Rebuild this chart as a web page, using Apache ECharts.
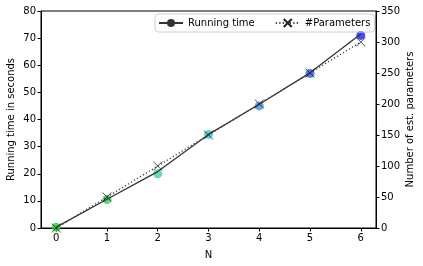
<!DOCTYPE html>
<html>
<head>
<meta charset="utf-8">
<script src="https://cdn.jsdelivr.net/npm/echarts@6/dist/echarts.min.js"></script>
<style>html,body{margin:0;padding:0;background:#fff}#c{width:423px;height:266px}</style>
</head>
<body>
<div id="c"></div>
<script>
var categories = [0, 1, 2, 3, 4, 5, 6];
var runningTimeLine = [0.3, 10.6, 20.8, 34.5, 45.6, 57.2, 71.5];
var runningTimePoints = [0.3, 10.5, 20.0, 34.5, 45.0, 57.0, 71.0];
var parameters = [0, 50, 100, 150, 200, 250, 300];
var pointColors = ['#2fcf3a', '#3fd060', '#4fd89a', '#3fcccc', '#4898e6', '#2f62ee', '#2a2aff'];
var leftTicks = [0, 10, 20, 30, 40, 50, 60, 70, 80];
var rightTicks = [0, 50, 100, 150, 200, 250, 300, 350];

var font = 'DejaVu Sans';
var chart = echarts.init(document.getElementById('c'), null, {renderer: 'canvas'});
var xMark = 'path://M0,0L10,10M10,0L0,10';
chart.setOption({
  animation: false,
  textStyle: {fontFamily: font},
  grid: {left: 41, right: 47, top: 11, bottom: 38, show: true, borderColor: '#000', borderWidth: 1, backgroundColor: 'transparent', outerBoundsMode: 'none', containLabel: false},
  legend: {
    left: 155, top: 14,
    itemWidth: 24, itemHeight: 10, itemGap: 20,
    padding: [4, 4, 4, 3],
    borderColor: '#d0d0d0', borderWidth: 1, borderRadius: 3,
    textStyle: {fontFamily: font, fontSize: 10, color: '#000'},
    data: ['Running time', '#Parameters']
  },
  xAxis: {
    type: 'value', min: -0.3, max: 6.3,
    name: 'N', nameLocation: 'middle', nameGap: 22, nameMoveOverlap: false,
    nameTextStyle: {fontFamily: font, fontSize: 10, color: '#000'},
    axisLine: {onZero: false, lineStyle: {color: '#000', width: 1}},
    axisTick: {show: true, length: 3.5, lineStyle: {color: '#000'}, customValues: categories},
    axisLabel: {fontFamily: font, fontSize: 10, color: '#000', margin: 5, customValues: categories},
    splitLine: {show: false}
  },
  yAxis: [{
    type: 'value', min: 0, max: 80, interval: 10,
    name: 'Running time in seconds', nameLocation: 'middle', nameGap: 25, nameMoveOverlap: false,
    nameTextStyle: {fontFamily: font, fontSize: 10, color: '#000'},
    axisLine: {show: true, onZero: false, lineStyle: {color: '#000', width: 1}},
    axisTick: {show: true, length: 3.5, lineStyle: {color: '#000'}, customValues: leftTicks},
    axisLabel: {fontFamily: font, fontSize: 10, color: '#000', margin: 5, customValues: leftTicks},
    splitLine: {show: false}
  }, {
    type: 'value', min: 0, max: 350, interval: 50, position: 'right',
    name: 'Number of est. parameters', nameLocation: 'middle', nameGap: 29, nameMoveOverlap: false,
    nameRotate: 90,
    nameTextStyle: {fontFamily: font, fontSize: 10, color: '#000'},
    axisLine: {show: true, onZero: false, lineStyle: {color: '#000', width: 1}},
    axisTick: {show: true, length: 3.5, lineStyle: {color: '#000'}, customValues: rightTicks},
    axisLabel: {fontFamily: font, fontSize: 10, color: '#000', margin: 5, customValues: rightTicks},
    splitLine: {show: false}
  }],
  series: [{
    name: 'Running time', type: 'line', yAxisIndex: 0,
    data: categories.map(function (c, i) { return [c, runningTimeLine[i]]; }),
    symbol: 'circle', symbolSize: 8, showSymbol: false,
    itemStyle: {color: '#333'},
    lineStyle: {color: '#333', width: 1.3, type: 'solid'},
    z: 3
  }, {
    name: 'pts', type: 'scatter', yAxisIndex: 0,
    data: categories.map(function (c, i) { return {value: [c, runningTimePoints[i]], itemStyle: {color: pointColors[i]}}; }),
    symbolSize: 9, itemStyle: {opacity: 0.85},
    z: 2
  }, {
    name: '#Parameters', type: 'line', yAxisIndex: 1,
    data: categories.map(function (c, i) { return [c, parameters[i]]; }),
    symbol: xMark, symbolSize: 9,
    itemStyle: {color: 'rgba(0,0,0,0)', borderColor: '#222', borderWidth: 0.8},
    lineStyle: {color: '#444', width: 1.3, type: [1.3, 2.2]},
    z: 4
  }]
});
</script>
</body>
</html>
